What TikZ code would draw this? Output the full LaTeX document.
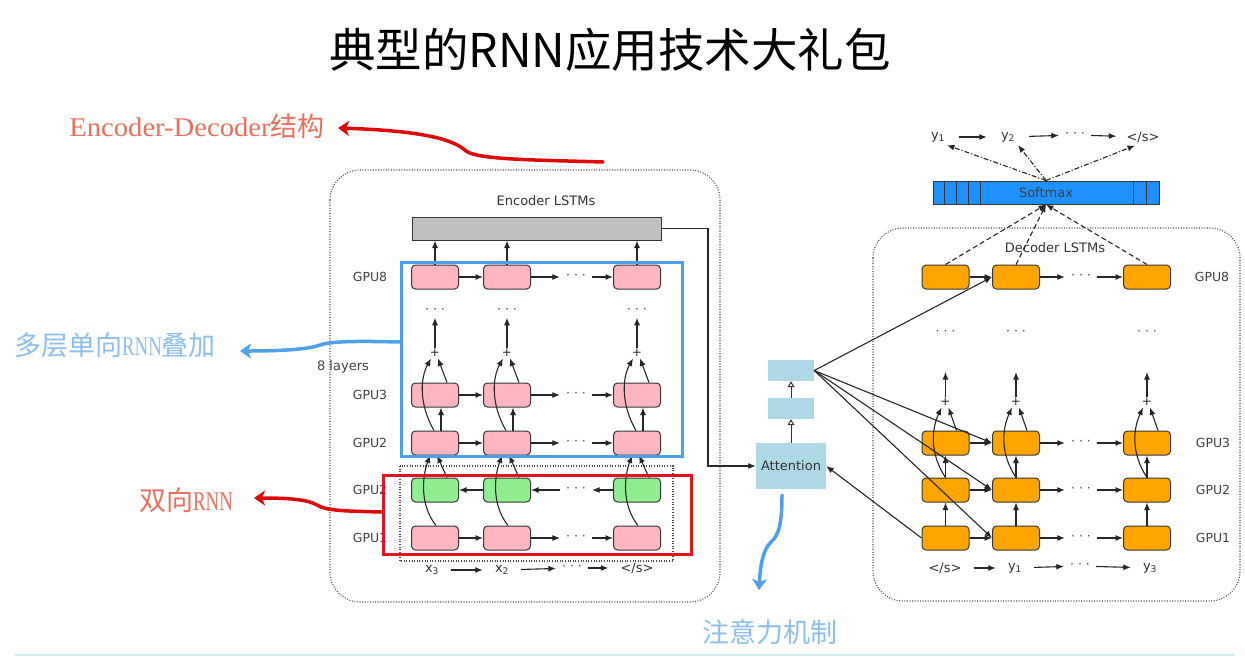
\documentclass[tikz,border=0pt]{standalone}
\usepackage{fontspec}
\usetikzlibrary{arrows.meta,calc}
\setmainfont{DejaVu Sans}
\newfontfamily\cjk{Noto Sans CJK SC}
\newfontfamily\serlat{Liberation Serif}
\definecolor{cpink}{RGB}{255,182,193}
\definecolor{cgreen}{RGB}{144,238,144}
\definecolor{corange}{RGB}{255,165,0}
\definecolor{cattn}{RGB}{173,216,230}
\definecolor{csoft}{RGB}{30,144,255}
\definecolor{cgrey}{RGB}{192,192,192}
\definecolor{cedge}{RGB}{55,55,55}
\definecolor{annred}{RGB}{222,10,10}
\definecolor{annredtxt}{RGB}{232,112,92}
\definecolor{annblue}{RGB}{80,160,232}
\definecolor{annbluetxt}{RGB}{140,192,235}
\definecolor{boxblue}{RGB}{75,160,235}
\definecolor{boxred}{RGB}{222,20,30}
\definecolor{footline}{RGB}{210,238,240}
\begin{document}
\begin{tikzpicture}[x=1pt,y=-1pt,
  cell/.style={draw=cedge,line width=1pt,rounded corners=4pt,minimum width=47pt,minimum height=24pt,inner sep=0pt},
  pinkcell/.style={cell,fill=cpink},
  greencell/.style={cell,fill=cgreen},
  orangecell/.style={cell,fill=corange},
  lbl/.style={font=\fontsize{12.5}{14}\selectfont,text=black!75},
  dotsn/.style={font=\fontsize{12.5}{13}\selectfont,inner xsep=6pt,inner ysep=4pt,text=black!70},
  plusn/.style={font=\fontsize{12}{13}\selectfont,inner sep=1.5pt,text=black!85},
  tok/.style={font=\fontsize{13}{14}\selectfont,inner xsep=12pt,inner ysep=3pt,text=black!80},
  arr/.style={draw=black!85,line width=1.1pt,-{Latex[length=7.5pt,width=6pt]}},
  openarr/.style={draw=black!80,line width=1pt,-{Triangle[open,length=6pt,width=7pt]}},
  dasharr/.style={arr,dash pattern=on 5pt off 3pt},
  ddarr/.style={arr,dash pattern=on 5pt off 2pt on 1.2pt off 2pt},
  dotbox/.style={draw=black!70,line width=1.1pt,dash pattern=on 1pt off 1.6pt,rounded corners=30pt},
  innerdot/.style={draw=black!70,line width=1.1pt,dash pattern=on 1pt off 1.6pt},
  annarr/.style={line width=3.5pt,line cap=round,-{Stealth[length=11pt,width=15pt,inset=3pt]}},
  anntxt/.style={inner sep=0pt,font=\fontsize{27}{30}\selectfont},
]
\fill[white] (0,0) rectangle (1245,665);
\useasboundingbox (0,0) rectangle (1245,665);

% title
\node (title) at (610,50) {\cjk\fontsize{46.5}{52}\selectfont 典型的RNN应用技术大礼包};

% outer boxes
\draw[dotbox] (330,170) rectangle (720,602);
\draw[dotbox] (873,228) rectangle (1240,601);
\draw[innerdot] (400,466) rectangle (673,561);

% ---------------- encoder ----------------
\node[font=\fontsize{13}{14}\selectfont,text=black!80] (enclab) at (546,201) {Encoder LSTMs};
\node[draw=cedge,fill=cgrey,line width=1pt,minimum width=249pt,minimum height=23pt,inner sep=0pt] (bar) at (536.5,228.5) {};

\foreach \cc/\xx in {a/435,b/507,c/637} {
  \node[pinkcell] (e8\cc) at (\xx,277) {};
  \node[pinkcell] (e3\cc) at (\xx,395) {};
  \node[pinkcell] (e2\cc) at (\xx,443) {};
  \node[greencell] (eg\cc) at (\xx,490) {};
  \node[pinkcell] (e1\cc) at (\xx,538) {};
  \node[dotsn] (ev\cc) at (\xx,311) {· · ·};
  \node[plusn] (ep\cc) at (\xx,353) {+};
}
\foreach \rr/\yy in {8/277,3/395,2/443,g/490,1/538} {
  \node[dotsn] (e\rr h) at (576,\yy) {· · ·};
}
\node[lbl] (lg8) at (370,277) {GPU8};
\node[lbl] (lg3) at (370,395) {GPU3};
\node[lbl] (lg2) at (370,443) {GPU2};
\node[lbl] (lgg) at (370,490) {GPU2};
\node[lbl] (lg1) at (370,538) {GPU1};
\node[lbl,font=\fontsize{13}{14}\selectfont] (layers) at (343,367) {8 layers};

\foreach \rr in {8,3,2,1} {
  \draw[arr] (e\rr a) -- (e\rr b);
  \draw[arr] (e\rr b) -- (e\rr h);
  \draw[arr] (e\rr h) -- (e\rr c);
}
\draw[arr] (egc) -- (egh);
\draw[arr] (egh) -- (egb);
\draw[arr] (egb) -- (ega);

\foreach \cc in {a,b,c} {
  \draw[arr] (e8\cc) -- (e8\cc |- bar.south);
  \draw[arr] (ep\cc) -- (ev\cc);
  \draw[arr] ([xshift=12pt]e3\cc.north) -- ([xshift=3pt]ep\cc.south);
  \draw[arr] ([xshift=-1pt]e2\cc.north) .. controls +(-15,-26) and +(-11,20) .. ([xshift=-4pt]ep\cc.south);
  \draw[arr] ([xshift=6pt]e2\cc.north) -- ([xshift=6pt]e3\cc.south);
  \draw[arr] ([xshift=12pt]eg\cc.north) -- ([xshift=2pt]e2\cc.south);
  \draw[arr] ([xshift=1pt]e1\cc.north) .. controls +(-16,-20) and +(-8,22) .. ([xshift=-5pt]e2\cc.south);
}

% encoder input tokens
\node[tok] (x3) at (432,570) {x\textsubscript{3}};
\node[tok] (x2) at (502,570) {x\textsubscript{2}};
\node[dotsn] (xd) at (572,568) {· · ·};
\node[tok] (xs) at (637,568) {</s>};
\draw[arr] (x3) -- (x2);
\draw[arr] (x2) -- (xd);
\draw[arr] (xd) -- (xs);

% ---------------- attention ----------------
\node[fill=cattn,minimum width=70pt,minimum height=46pt,inner sep=0pt,font=\fontsize{13}{14}\selectfont,text=black!80] (att) at (791,466) {Attention};
\node[fill=cattn,minimum width=46pt,minimum height=21pt,inner sep=0pt] (a2) at (791,408.5) {};
\node[fill=cattn,minimum width=46pt,minimum height=21pt,inner sep=0pt] (a3) at (791,370.5) {};
\draw[openarr] (att) -- (a2);
\draw[openarr] (a2) -- (a3);
\coordinate (bend) at (708,228.5);
\draw[arr] (bar.east) -- (bend) |- (att.west);

% ---------------- decoder ----------------
\node[font=\fontsize{13}{14}\selectfont,text=black!80] (declab) at (1055,248) {Decoder LSTMs};
\foreach \cc/\xx in {a/945.5,b/1016,c/1147} {
  \node[orangecell] (d8\cc) at (\xx,277) {};
  \node[orangecell] (d3\cc) at (\xx,443) {};
  \node[orangecell] (d2\cc) at (\xx,490) {};
  \node[orangecell] (d1\cc) at (\xx,538) {};
  \node[dotsn] (dv\cc) at (\xx,333) {· · ·};
  \node[plusn] (dp\cc) at (\xx,402) {+};
  \coordinate (dt\cc) at (\xx,372);
}
\foreach \rr/\yy in {8/277,3/443,2/490,1/538} {
  \node[dotsn] (d\rr h) at (1081,\yy) {· · ·};
}
\node[lbl] (ld8) at (1212,277) {GPU8};
\node[lbl] (ld3) at (1213,443) {GPU3};
\node[lbl] (ld2) at (1213,490) {GPU2};
\node[lbl] (ld1) at (1213,538) {GPU1};

\foreach \rr in {8,3,2,1} {
  \draw[arr] (d\rr a) -- (d\rr b);
  \draw[arr] (d\rr b) -- (d\rr h);
  \draw[arr] (d\rr h) -- (d\rr c);
}
\foreach \cc in {a,b,c} {
  \draw[arr] (d1\cc) -- (d2\cc);
  \draw[arr] (d2\cc) -- (d3\cc);
  \draw[arr] ([xshift=11pt]d3\cc.north) -- ([xshift=3pt]dp\cc.south);
  \draw[arr] (d2\cc.north) .. controls +(-16,-24) and +(-10,22) .. ([xshift=-4pt]dp\cc.south);
  \draw[arr] (dp\cc) -- (dt\cc);
}

% decoder input tokens
\node[tok] (ys0) at (945,568) {</s>};
\node[tok] (yi1) at (1015,568) {y\textsubscript{1}};
\node[dotsn] (yid) at (1080,566) {· · ·};
\node[tok] (yi3) at (1150,568) {y\textsubscript{3}};
\draw[arr] (ys0) -- (yi1);
\draw[arr] (yi1) -- (yid);
\draw[arr] (yid) -- (yi3);

% attention to decoder
\draw[arr] (a3.east) -- (d8b.west);
\draw[arr] (a3.east) -- (d3b.west);
\draw[arr] (a3.east) -- (d2b.west);
\draw[arr] (a3.east) -- (d1b.west);
\draw[arr] (d1a.west) -- (att.east);

% softmax
\node[draw=cedge,fill=csoft,line width=1pt,minimum width=226pt,minimum height=23pt,inner sep=0pt,font=\fontsize{13}{14}\selectfont,text=black!75] (sm) at (1046,192.5) {Softmax};
\foreach \dx in {12,24,36,48,201,214} {
  \draw[cedge,line width=1pt] ([xshift=\dx pt]sm.north west) -- ([xshift=\dx pt]sm.south west);
}
\foreach \cc in {a,b,c} {
  \draw[dasharr] (d8\cc.north) -- (sm.south);
}
\node[tok,inner xsep=14pt] (ty1) at (938,137) {y\textsubscript{1}};
\node[tok,inner xsep=14pt] (ty2) at (1008,137) {y\textsubscript{2}};
\node[dotsn] (tyd) at (1075,135) {· · ·};
\node[tok,inner xsep=10pt] (tys) at (1143,137) {</s>};
\draw[arr] (ty1) -- (ty2);
\draw[arr] (ty2) -- (tyd);
\draw[arr] (tyd) -- (tys);
\draw[ddarr] (sm.north) -- ([xshift=9pt]ty1.south);
\draw[ddarr] (sm.north) -- ([xshift=10pt]ty2.south);
\draw[ddarr] (sm.north) -- ([xshift=-8pt]tys.south);

% ---------------- annotations ----------------
\node[draw=boxblue,line width=3pt,minimum width=281pt,minimum height=194pt,inner sep=0pt] (bluebox) at (541.5,359) {};
\node[draw=boxred,line width=3pt,minimum width=308pt,minimum height=79pt,inner sep=0pt] (redbox) at (537,514.5) {};

\node[anntxt,text=annredtxt] (tEncDec) at (197,126) {\serlat\scalebox{1.06}[1]{Encoder-Decoder}\cjk 结构};
\coordinate (encStart) at (603,162);
\coordinate (encTip) at (338,128);
\draw[annarr,annred] (encStart) .. controls (540,160) and (478,160) .. (466,151) .. controls (455,141) and (430,131) .. (encTip);

\node[anntxt,text=annbluetxt] (tMulti) at (115,345) {\cjk 多层单向\serlat\scalebox{0.7}[1]{RNN}\cjk 叠加};
\coordinate (multiTip) at (240,351);
\draw[annarr,annblue] ([yshift=17pt]bluebox.west) .. controls (360,341) and (332,341) .. (320,345) .. controls (309,349) and (285,351) .. (multiTip);

\node[anntxt,text=annredtxt] (tBi) at (186,500) {\cjk 双向\serlat\scalebox{0.7}[1]{RNN}};
\coordinate (biTip) at (254,498);
\draw[annarr,annred] ([yshift=2.5pt]redbox.west) .. controls (345,511) and (327,511) .. (317,505) .. controls (307,499) and (285,498) .. (biTip);

\node[anntxt,text=annbluetxt] (tAttn) at (770,632) {\cjk 注意力机制};
\coordinate (attTip) at (759,590);
\draw[annarr,annblue] ([xshift=-9pt,yshift=-6pt]att.south) .. controls (782,518) and (780,535) .. (771,542) .. controls (762,550) and (760,570) .. (attTip);

\draw[footline,line width=1.5pt] (15,655) -- (1235,655);
\end{tikzpicture}
\end{document}
